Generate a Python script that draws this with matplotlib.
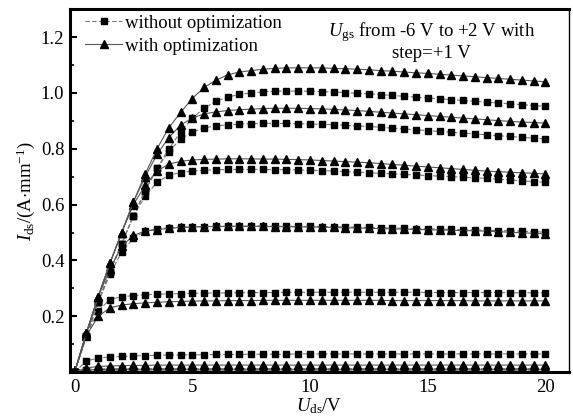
import matplotlib
matplotlib.use("Agg")
import matplotlib.pyplot as plt
from matplotlib.ticker import MultipleLocator

plt.rcParams['font.family'] = 'Liberation Serif'
plt.rcParams['mathtext.fontset'] = 'custom'
plt.rcParams['mathtext.rm'] = 'Liberation Serif'
plt.rcParams['mathtext.it'] = 'Liberation Serif:italic'

# drain voltage, V
uds = [0, 0.5, 1, 1.5, 2, 2.5, 3, 3.5, 4, 4.5, 5, 5.5, 6, 6.5, 7, 7.5, 8, 8.5, 9, 9.5,
       10, 10.5, 11, 11.5, 12, 12.5, 13, 13.5, 14, 14.5, 15, 15.5, 16, 16.5, 17, 17.5,
       18, 18.5, 19, 19.5, 20]

ugs = [-6, -5, -4, -3, -2, -1, 0, 1, 2]

# without optimization (squares), A/mm
sq_m6 = [0, 0.001, 0.001, 0.001, 0.001, 0.001, 0.001, 0.001, 0.001, 0.001, 0.001, 0.001, 0.001, 0.001,
         0.001, 0.001, 0.001, 0.001, 0.001, 0.001, 0.001, 0.001, 0.001, 0.001, 0.001, 0.001, 0.001, 0.001,
         0.001, 0.001, 0.001, 0.001, 0.001, 0.001, 0.001, 0.001, 0.001, 0.001, 0.001, 0.001, 0.001]
sq_m5 = [0, 0.003, 0.004, 0.004, 0.004, 0.004, 0.004, 0.004, 0.004, 0.004, 0.004, 0.004, 0.004, 0.004,
         0.004, 0.004, 0.004, 0.004, 0.004, 0.004, 0.004, 0.004, 0.004, 0.004, 0.004, 0.004, 0.004, 0.004,
         0.004, 0.004, 0.004, 0.004, 0.004, 0.004, 0.004, 0.004, 0.004, 0.004, 0.004, 0.004, 0.004]
sq_m4 = [0, 0.009, 0.011, 0.012, 0.012, 0.012, 0.012, 0.012, 0.012, 0.012, 0.012, 0.012, 0.012, 0.012,
         0.012, 0.012, 0.012, 0.012, 0.012, 0.012, 0.012, 0.012, 0.012, 0.012, 0.012, 0.012, 0.012, 0.012,
         0.012, 0.012, 0.012, 0.012, 0.012, 0.012, 0.012, 0.012, 0.012, 0.012, 0.012, 0.012, 0.012]
sq_m3 = [0, 0.04, 0.05, 0.054, 0.056, 0.058, 0.059, 0.06, 0.061, 0.061, 0.062, 0.062, 0.063, 0.063,
         0.063, 0.064, 0.064, 0.064, 0.064, 0.065, 0.065, 0.065, 0.065, 0.065, 0.065, 0.065, 0.065, 0.065,
         0.065, 0.065, 0.065, 0.065, 0.065, 0.065, 0.065, 0.065, 0.065, 0.065, 0.065, 0.065, 0.065]
sq_m2 = [0, 0.13, 0.22, 0.26, 0.27, 0.274, 0.277, 0.279, 0.28, 0.281, 0.282, 0.283, 0.283, 0.284,
         0.284, 0.285, 0.285, 0.285, 0.286, 0.286, 0.286, 0.286, 0.286, 0.286, 0.286, 0.286, 0.286, 0.286,
         0.286, 0.286, 0.285, 0.285, 0.285, 0.285, 0.285, 0.285, 0.285, 0.284, 0.284, 0.284, 0.284]
sq_m1 = [0, 0.13, 0.25, 0.35, 0.43, 0.48, 0.505, 0.513, 0.517, 0.519, 0.52, 0.521, 0.522, 0.522,
         0.523, 0.523, 0.523, 0.523, 0.522, 0.522, 0.522, 0.521, 0.521, 0.52, 0.519, 0.518, 0.517, 0.516,
         0.515, 0.514, 0.513, 0.512, 0.511, 0.51, 0.509, 0.508, 0.507, 0.506, 0.505, 0.503, 0.501]
sq_0 = [0, 0.13, 0.25, 0.36, 0.46, 0.56, 0.63, 0.68, 0.705, 0.715, 0.72, 0.723, 0.725, 0.726,
        0.726, 0.726, 0.726, 0.725, 0.725, 0.724, 0.723, 0.722, 0.72, 0.718, 0.716, 0.714, 0.712, 0.71,
        0.708, 0.706, 0.704, 0.702, 0.70, 0.698, 0.696, 0.694, 0.691, 0.688, 0.685, 0.682, 0.68]
sq_p1 = [0, 0.13, 0.25, 0.36, 0.46, 0.56, 0.65, 0.73, 0.79, 0.835, 0.86, 0.875, 0.882, 0.886,
         0.888, 0.89, 0.891, 0.891, 0.891, 0.89, 0.889, 0.888, 0.886, 0.884, 0.882, 0.88, 0.877, 0.874,
         0.871, 0.868, 0.865, 0.862, 0.859, 0.856, 0.853, 0.85, 0.847, 0.844, 0.841, 0.838, 0.835]
sq_p2 = [0, 0.13, 0.25, 0.36, 0.46, 0.56, 0.65, 0.73, 0.80, 0.86, 0.91, 0.945, 0.97, 0.985,
         0.995, 1.0, 1.004, 1.006, 1.007, 1.007, 1.006, 1.005, 1.003, 1.001, 0.999, 0.997, 0.994, 0.991,
         0.988, 0.985, 0.982, 0.979, 0.976, 0.973, 0.97, 0.967, 0.964, 0.961, 0.958, 0.955, 0.952]

# with optimization (triangles), A/mm
tr_m6 = [0, 0.001, 0.001, 0.001, 0.001, 0.001, 0.001, 0.001, 0.001, 0.001, 0.001, 0.001, 0.001, 0.001,
         0.001, 0.001, 0.001, 0.001, 0.001, 0.001, 0.001, 0.001, 0.001, 0.001, 0.001, 0.001, 0.001, 0.001,
         0.001, 0.001, 0.001, 0.001, 0.001, 0.001, 0.001, 0.001, 0.001, 0.001, 0.001, 0.001, 0.001]
tr_m5 = [0, 0.002, 0.003, 0.003, 0.003, 0.003, 0.003, 0.003, 0.003, 0.003, 0.003, 0.003, 0.003, 0.003,
         0.003, 0.003, 0.003, 0.003, 0.003, 0.003, 0.003, 0.003, 0.003, 0.003, 0.003, 0.003, 0.003, 0.003,
         0.003, 0.003, 0.003, 0.003, 0.003, 0.003, 0.003, 0.003, 0.003, 0.003, 0.003, 0.003, 0.003]
tr_m4 = [0, 0.008, 0.009, 0.01, 0.01, 0.01, 0.01, 0.01, 0.01, 0.01, 0.01, 0.01, 0.01, 0.01,
         0.01, 0.01, 0.01, 0.01, 0.01, 0.01, 0.01, 0.01, 0.01, 0.01, 0.01, 0.01, 0.01, 0.01,
         0.01, 0.01, 0.01, 0.01, 0.01, 0.01, 0.01, 0.01, 0.01, 0.01, 0.01, 0.01, 0.01]
tr_m3 = [0, 0.015, 0.02, 0.022, 0.023, 0.024, 0.024, 0.025, 0.025, 0.025, 0.025, 0.025, 0.025, 0.025,
         0.025, 0.025, 0.025, 0.025, 0.025, 0.025, 0.025, 0.025, 0.025, 0.025, 0.025, 0.025, 0.025, 0.025,
         0.025, 0.025, 0.025, 0.025, 0.025, 0.025, 0.025, 0.025, 0.025, 0.025, 0.025, 0.025, 0.025]
tr_m2 = [0, 0.13, 0.20, 0.23, 0.24, 0.245, 0.248, 0.25, 0.252, 0.253, 0.254, 0.255, 0.255, 0.256,
         0.256, 0.256, 0.257, 0.257, 0.257, 0.257, 0.257, 0.257, 0.257, 0.257, 0.257, 0.257, 0.257, 0.256,
         0.256, 0.256, 0.256, 0.256, 0.256, 0.256, 0.255, 0.255, 0.255, 0.255, 0.255, 0.255, 0.255]
tr_m1 = [0, 0.14, 0.27, 0.37, 0.45, 0.49, 0.505, 0.51, 0.515, 0.518, 0.52, 0.521, 0.522, 0.522,
         0.522, 0.522, 0.522, 0.521, 0.521, 0.52, 0.52, 0.519, 0.518, 0.517, 0.516, 0.515, 0.514, 0.513,
         0.512, 0.511, 0.51, 0.509, 0.508, 0.507, 0.506, 0.505, 0.503, 0.501, 0.499, 0.497, 0.495]
tr_0 = [0, 0.14, 0.27, 0.39, 0.50, 0.60, 0.67, 0.72, 0.745, 0.755, 0.76, 0.762, 0.763, 0.764,
        0.764, 0.764, 0.763, 0.763, 0.762, 0.761, 0.76, 0.758, 0.756, 0.754, 0.752, 0.75, 0.747, 0.744,
        0.741, 0.738, 0.735, 0.732, 0.729, 0.726, 0.723, 0.72, 0.718, 0.716, 0.714, 0.712, 0.71]
tr_p1 = [0, 0.14, 0.27, 0.39, 0.50, 0.61, 0.70, 0.78, 0.84, 0.885, 0.91, 0.925, 0.932, 0.937,
         0.94, 0.942, 0.944, 0.945, 0.945, 0.945, 0.944, 0.943, 0.941, 0.939, 0.937, 0.934, 0.931, 0.928,
         0.925, 0.922, 0.919, 0.916, 0.913, 0.91, 0.907, 0.904, 0.901, 0.898, 0.896, 0.894, 0.892]
tr_p2 = [0, 0.14, 0.27, 0.39, 0.50, 0.61, 0.71, 0.80, 0.875, 0.93, 0.98, 1.02, 1.045, 1.065,
         1.075, 1.08, 1.085, 1.088, 1.09, 1.09, 1.09, 1.09, 1.088, 1.087, 1.085, 1.083, 1.08, 1.078,
         1.075, 1.072, 1.07, 1.067, 1.064, 1.061, 1.058, 1.055, 1.052, 1.049, 1.046, 1.043, 1.04]

without_opt = [sq_m6, sq_m5, sq_m4, sq_m3, sq_m2, sq_m1, sq_0, sq_p1, sq_p2]
with_opt = [tr_m6, tr_m5, tr_m4, tr_m3, tr_m2, tr_m1, tr_0, tr_p1, tr_p2]

fs = 13.5

fig = plt.figure(figsize=(5.73, 4.19), dpi=100)
ax = fig.add_axes([0.122, 0.112, 0.871, 0.866])

for i, ids in enumerate(without_opt):
    ax.plot(uds, ids, linestyle=(0, (4, 2)), color='#777777', lw=0.8,
            marker='s', ms=4.8, mfc='black', mec='black',
            label='without optimization' if i == 0 else None)
for i, ids in enumerate(with_opt):
    ax.plot(uds, ids, linestyle='-', color='#555555', lw=0.8,
            marker='^', ms=6.2, mfc='black', mec='black',
            label='with optimization' if i == 0 else None)

ax.set_xlim(-0.2, 21)
ax.set_ylim(0, 1.3)
ax.set_xticks([0, 5, 10, 15, 20])
ax.set_yticks([0.2, 0.4, 0.6, 0.8, 1.0, 1.2])
ax.yaxis.set_minor_locator(MultipleLocator(0.1))
ax.tick_params(axis='both', which='both', direction='in', labelsize=fs)
ax.tick_params(axis='y', which='major', length=5, width=1.5, pad=4)
ax.tick_params(axis='y', which='minor', length=3, width=1.2)
ax.tick_params(axis='x', which='major', length=4, width=1.2, pad=5)

for side in ['left', 'bottom', 'top']:
    ax.spines[side].set_linewidth(2.2)
ax.spines['right'].set_linewidth(1.0)

ax.set_xlabel(r'$\mathit{U}_{\rm ds}$/V', fontsize=fs, labelpad=0)
ax.set_ylabel(r'$\mathit{I}_{\rm ds}$/(A$\cdot$mm$^{-1}$)', fontsize=fs, labelpad=3)

ax.legend(loc='upper left', bbox_to_anchor=(0.03, 0.985), frameon=False, fontsize=fs,
          handlelength=2.0, handletextpad=0.15, borderaxespad=0, labelspacing=0.3,
          borderpad=0)

ax.text(0.725, 0.97, r'$\mathit{U}_{\rm gs}$ from -6 V to +2 V with' + '\nstep=+1 V',
        transform=ax.transAxes, ha='center', va='top', fontsize=fs, linespacing=1.1)

fig.savefig('out.png', dpi=100)
